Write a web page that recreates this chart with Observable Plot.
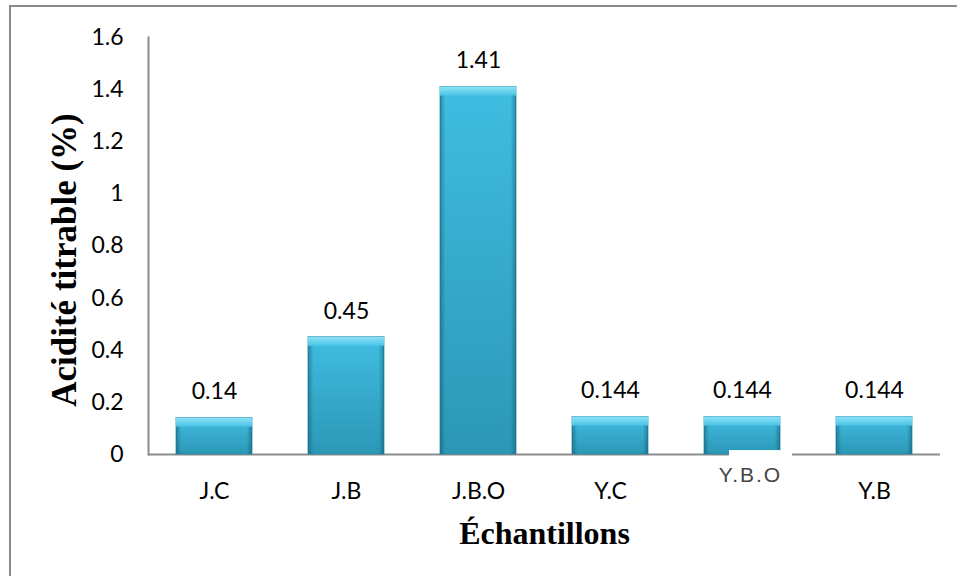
<!DOCTYPE html>
<html><head><meta charset="utf-8">
<script src="https://cdn.jsdelivr.net/npm/d3@7"></script>
<script src="https://cdn.jsdelivr.net/npm/@observablehq/plot@0.6"></script>
<style>
body{margin:0;background:#fff;}
#wrap{position:relative;width:957px;height:576px;overflow:hidden;background:#fff;}
#wrap svg{position:absolute;left:0;top:0;}
#border{position:absolute;left:9px;top:5px;width:1000px;height:700px;border-left:2px solid #8c8c8c;border-top:2px solid #8c8c8c;z-index:2;pointer-events:none;}
.ybo text{letter-spacing:2px;}
</style></head><body><div id="wrap"><div id="border"></div></div>
<script>
const categories = ["J.C", "J.B", "J.B.O", "Y.C", "Y.B.O", "Y.B"];
const values = [0.14, 0.45, 1.41, 0.144, 0.144, 0.144];
const valueLabels = ["0.14", "0.45", "1.41", "0.144", "0.144", "0.144"];
const yTicks = [0, 0.2, 0.4, 0.6, 0.8, 1, 1.2, 1.4, 1.6];
const yTickLabels = ["0", "0.2", "0.4", "0.6", "0.8", "1", "1.2", "1.4", "1.6"];
const yTitle = "Acidité titrable (%)";
const xTitle = "Échantillons";
const oddCategory = "Y.B.O";

const data = categories.map((c, i) => ({category: c, value: values[i], label: valueLabels[i]}));

const chart = Plot.plot({
  width: 957,
  height: 576,
  marginLeft: 148,
  marginRight: 17,
  marginTop: 37,
  marginBottom: 122,
  style: {fontFamily: "Lato", fontSize: "23px", color: "#000", background: "transparent"},
  x: {domain: categories, paddingInner: 0.424, paddingOuter: 0.212, label: null},
  y: {domain: [0, 1.6], label: null},
  marks: [
    Plot.frame({anchor: "left", stroke: "#8c8c8c", strokeWidth: 2}),
    Plot.ruleY([0], {stroke: "#8c8c8c", strokeWidth: 2}),
    Plot.barY(data, {x: "category", y: "value", fill: "url(#barGrad)", stroke: "#2a8aa6", strokeWidth: 0.8}),
    Plot.barY(data, {x: "category", y: "value", fill: "url(#sideGrad)"}),
    Plot.barY(data, {x: "category", y1: d => d.value - 0.035, y2: "value", fill: "url(#topGrad)"}),
    Plot.barY(data.filter(d => d.category === oddCategory), {x: "category", y1: -0.03, y2: 0.015, fill: "#fff", insetLeft: 25, insetRight: -12}),
    Plot.text(data, {x: "category", y: "value", text: "label", dy: -26, lineAnchor: "middle", fill: "#000", fontSize: 23}),
    Plot.axisY({ticks: yTicks, tickFormat: d => yTickLabels[yTicks.indexOf(d)], tickSize: 0, tickPadding: 25, fontSize: 23, label: null}),
    Plot.axisX({tickSize: 0, tickPadding: 28, fontSize: 23, tickFormat: d => d === oddCategory ? "" : d, label: null}),
    Plot.text(data.filter(d => d.category === oddCategory), {x: "category", text: "category", frameAnchor: "bottom", dy: 21, dx: 8, lineAnchor: "middle", fill: "#444", fontFamily: "Liberation Sans", fontSize: 21, className: "ybo"}),
    Plot.text([yTitle], {frameAnchor: "left", textAnchor: "middle", rotate: -90, dx: -84, dy: 14, lineAnchor: "middle", fontFamily: "Liberation Serif", fontWeight: "bold", fontSize: 35, fill: "#000"}),
    Plot.text([xTitle], {frameAnchor: "bottom", textAnchor: "middle", dy: 79, lineAnchor: "middle", fontFamily: "Liberation Serif", fontWeight: "bold", fontSize: 32, fill: "#000"})
  ]
});

const ns = "http://www.w3.org/2000/svg";
const defs = document.createElementNS(ns, "defs");
defs.innerHTML = `
<linearGradient id="barGrad" x1="0" y1="0" x2="0" y2="1">
  <stop offset="0" stop-color="#3fbde1"/><stop offset="1" stop-color="#2c97b6"/>
</linearGradient>
<linearGradient id="sideGrad" x1="0" y1="0" x2="1" y2="0">
  <stop offset="0" stop-color="#0b4a5e" stop-opacity="0.45"/>
  <stop offset="0.07" stop-color="#0b4a5e" stop-opacity="0"/>
  <stop offset="0.93" stop-color="#0b4a5e" stop-opacity="0"/>
  <stop offset="1" stop-color="#0b4a5e" stop-opacity="0.45"/>
</linearGradient>
<linearGradient id="topGrad" x1="0" y1="0" x2="0" y2="1">
  <stop offset="0" stop-color="#8fe3f7"/><stop offset="1" stop-color="#48c3e5"/>
</linearGradient>`;
chart.insertBefore(defs, chart.firstChild);
document.getElementById("wrap").appendChild(chart);
</script>
</body></html>
